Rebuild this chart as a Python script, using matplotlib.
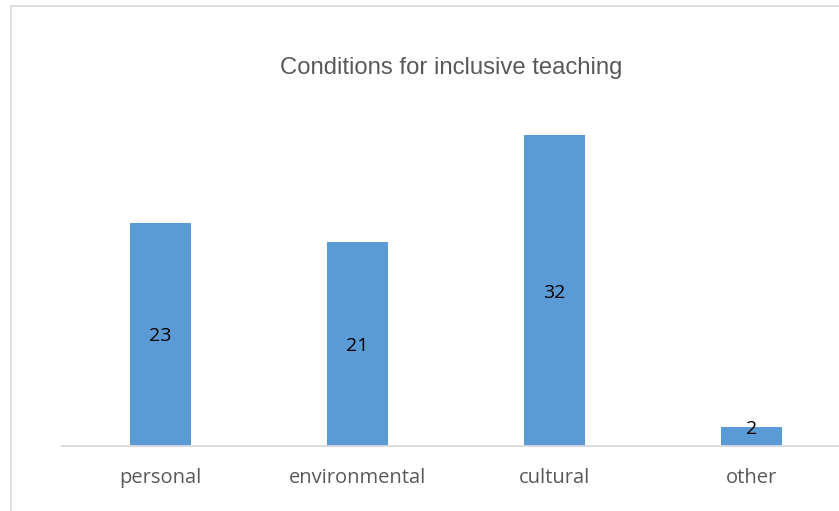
import matplotlib.pyplot as plt
from matplotlib.patches import Rectangle

categories = ["personal", "environmental", "cultural", "other"]
values = [23, 21, 32, 2]

fig = plt.figure(figsize=(8.39, 5.11), dpi=100)
# chart area border (right/bottom edges cut off like the screenshot)
fig.patches.append(Rectangle((11 / 839, -0.01), 1.0, (511 - 6) / 511 + 0.01,
                             transform=fig.transFigure, fill=False,
                             edgecolor="#d9d9d9", linewidth=1.2))

# axes spans 4 slots of ~197px, starting at x=62, baseline at y=446
ax = fig.add_axes([62 / 839, (511 - 446) / 511, 788 / 839, 340 / 511])
x = range(len(categories))
bars = ax.bar(x, values, width=0.31, color="#5b9bd5")
ax.set_xlim(-0.5, 3.5)
ax.set_ylim(0, 35)

for spine in ["top", "right", "left"]:
    ax.spines[spine].set_visible(False)
ax.spines["bottom"].set_color("#d9d9d9")
ax.spines["bottom"].set_linewidth(1.3)
ax.set_yticks([])
ax.set_xticks(list(x))
ax.set_xticklabels(categories, fontsize=14.5, color="#595959", family="Open Sans")
ax.tick_params(axis="x", length=0, pad=16)

for i, v in enumerate(values):
    y = v / 2 - 0.2 if v > 5 else v - 0.3
    ax.text(i, y, str(v), ha="center", va="center", fontsize=14,
            family="Open Sans", color="black")

fig.text(0.5 + 32 / 839, 1 - 68 / 511, "Conditions for inclusive teaching",
         ha="center", va="center", fontsize=17.2, color="#595959",
         family="Liberation Sans")

fig.savefig("out.png", dpi=100)
